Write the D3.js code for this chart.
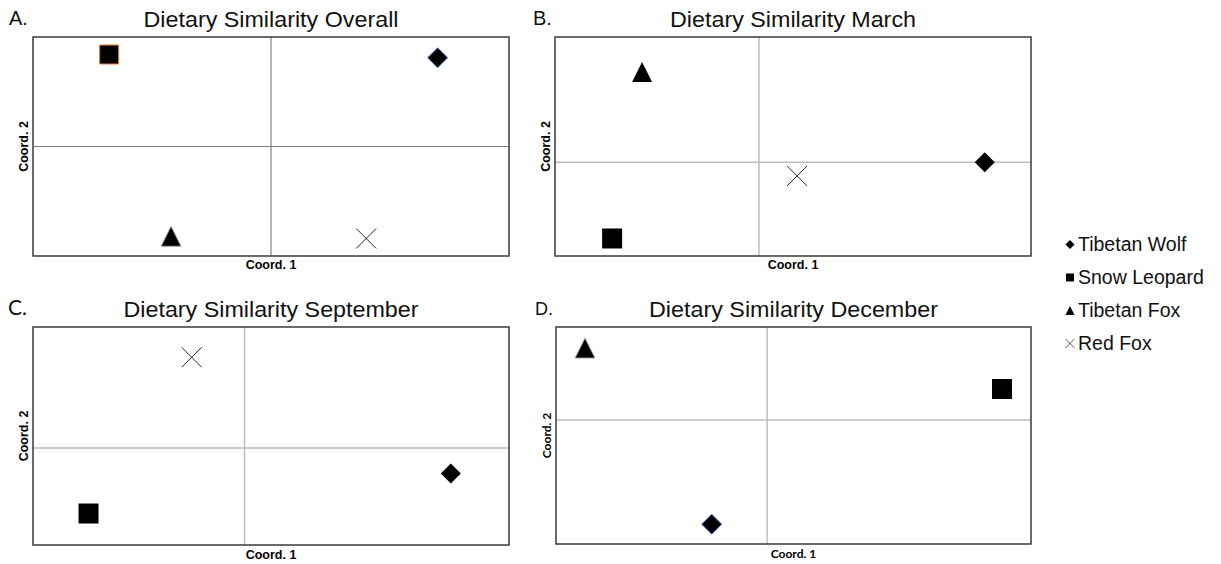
<!DOCTYPE html>
<html>
<head>
<meta charset="utf-8">
<script src="https://cdn.jsdelivr.net/npm/d3@7"></script>
<style>
  body { margin: 0; background: #fff; }
  svg { display: block; }
</style>
</head>
<body>
<svg id="chart"></svg>
<script>
// Species shown in every panel (same order as the coordinate arrays)
const species = ["Tibetan Wolf", "Snow Leopard", "Tibetan Fox", "Red Fox"];

const panelLetters = ["A.", "B.", "C.", "D."];
const panelTitles = [
  "Dietary Similarity Overall",
  "Dietary Similarity March",
  "Dietary Similarity September",
  "Dietary Similarity December",
];

// axis extents of each ordination (crosshair sits at 0)
const xDomains = [[-1, 1], [-0.75, 1], [-0.8, 1], [-0.8, 1]];
const yDomains = [[-1, 1], [-0.75, 1], [-0.8, 1], [-1, 0.75]];

// coordinates, null = species absent in that panel
const overallX = [0.70, -0.68, -0.42, 0.40];
const overallY = [0.81, 0.84, -0.82, -0.84];
const marchX = [0.83, -0.54, -0.43, 0.14];
const marchY = [0.0, -0.61, 0.72, -0.11];
const septemberX = [0.78, -0.59, null, -0.2];
const septemberY = [-0.21, -0.54, null, 0.75];
const decemberX = [-0.21, 0.89, -0.69, null];
const decemberY = [-0.84, 0.25, 0.58, null];

const panelX = [overallX, marchX, septemberX, decemberX];
const panelY = [overallY, marchY, septemberY, decemberY];

const width = 1221;
const height = 564;
const svg = d3.select("#chart").attr("width", width).attr("height", height);

// frames of the four plots
const frames = [
  { x0: 33, x1: 509, y0: 37, y1: 256 },
  { x0: 555, x1: 1031, y0: 37, y1: 256 },
  { x0: 33, x1: 509, y0: 327, y1: 545 },
  { x0: 556, x1: 1031, y0: 327, y1: 544 },
];
const titleWidths = [255, 246, 295, 289];
const letterX = [9, 533, 8, 535];

const arial = "'Liberation Sans', Arial, sans-serif";
const calibriLike = "Lato, 'Open Sans', sans-serif";

// custom symbols: square, diamond, triangle in a square box, and a thin cross
const boxTriangle = {
  draw(ctx, size) {
    const s = Math.sqrt(size) / 2;
    ctx.moveTo(0, -s);
    ctx.lineTo(s, s);
    ctx.lineTo(-s, s);
    ctx.closePath();
  },
};
const boxDiamond = {
  draw(ctx, size) {
    const s = Math.sqrt(size) / 2;
    ctx.moveTo(0, -s);
    ctx.lineTo(s, 0);
    ctx.lineTo(0, s);
    ctx.lineTo(-s, 0);
    ctx.closePath();
  },
};
const boxSquare = {
  draw(ctx, size) {
    const s = Math.sqrt(size) / 2;
    ctx.rect(-s, -s, 2 * s, 2 * s);
  },
};
const boxCross = {
  draw(ctx, size) {
    const s = Math.sqrt(size) / 2;
    ctx.moveTo(-s, -s);
    ctx.lineTo(s, s);
    ctx.moveTo(s, -s);
    ctx.lineTo(-s, s);
  },
};
const symbolTypes = [boxDiamond, boxSquare, boxTriangle, boxCross];

// edge colours that show in some panels (pasted markers)
function markerStroke(panel, i) {
  if (i === 3) return "#222";
  if (panel === 0 && i === 1) return "#e87d35";
  if ((panel === 0 || panel === 3) && i === 0) return "#4a72c4";
  if ((panel === 0 || panel === 3) && i === 2) return "#aaa";
  return "none";
}

frames.forEach((f, p) => {
  const g = svg.append("g");
  const x = d3.scaleLinear().domain(xDomains[p]).range([f.x0, f.x1]);
  const y = d3.scaleLinear().domain(yDomains[p]).range([f.y1, f.y0]);
  const cross = p === 0 ? "#808080" : "#bdbdbd";

  // crosshair at origin
  g.append("line")
    .attr("x1", x(0)).attr("x2", x(0))
    .attr("y1", f.y0).attr("y2", f.y1)
    .attr("stroke", cross).attr("stroke-width", p === 0 ? 1.2 : 1.5);
  g.append("line")
    .attr("x1", f.x0).attr("x2", f.x1)
    .attr("y1", y(0)).attr("y2", y(0))
    .attr("stroke", cross).attr("stroke-width", p === 0 ? 1.2 : 1.5);

  // frame
  g.append("rect")
    .attr("x", f.x0).attr("y", f.y0)
    .attr("width", f.x1 - f.x0).attr("height", f.y1 - f.y0)
    .attr("fill", "none").attr("stroke", "#3a3a3a").attr("stroke-width", 1.5);

  // points
  const pts = species
    .map((s, i) => ({ i, s, vx: panelX[p][i], vy: panelY[p][i] }))
    .filter((d) => d.vx !== null);

  g.selectAll(".pt")
    .data(pts)
    .enter()
    .append("path")
    .attr("class", "pt")
    .attr("transform", (d) => `translate(${x(d.vx)},${y(d.vy)})`)
    .attr("d", (d) => d3.symbol().type(symbolTypes[d.i]).size(d.i === 1 && p === 0 ? 361 : 400)())
    .attr("fill", (d) => (d.i === 3 ? "none" : "#000"))
    .attr("stroke", (d) => markerStroke(p, d.i))
    .attr("stroke-width", 1);

  // titles
  const cx = (f.x0 + f.x1) / 2;
  svg.append("text")
    .attr("x", cx).attr("y", f.y0 - 10)
    .attr("text-anchor", "middle")
    .attr("textLength", titleWidths[p])
    .attr("lengthAdjust", "spacingAndGlyphs")
    .style("font-family", arial).style("font-size", "22px").attr("fill", "#111")
    .text(panelTitles[p]);

  svg.append("text")
    .attr("x", letterX[p])
    .attr("y", f.y0 - 12)
    .style("font-family", p === 2 ? calibriLike : arial)
    .style("font-size", p === 2 ? "21px" : p === 3 ? "18px" : "20px").attr("fill", "#111")
    .text(panelLetters[p]);

  // axis titles
  const labelFont = p === 3 ? calibriLike : arial;
  const labelSize = p === 3 ? "12px" : "12.5px";
  svg.append("text")
    .attr("x", cx).attr("y", f.y1 + (p < 2 ? 13 : 14))
    .attr("text-anchor", "middle")
    .style("font-family", labelFont).style("font-size", labelSize).style("font-weight", "bold")
    .text("Coord. 1");
  svg.append("text")
    .attr("transform", `translate(${f.x0 - 5},${(f.y0 + f.y1) / 2}) rotate(-90)`)
    .attr("text-anchor", "middle")
    .style("font-family", labelFont).style("font-size", labelSize).style("font-weight", "bold")
    .text("Coord. 2");
});

// legend
const legend = svg.append("g").attr("transform", "translate(1070,243.5)");
const item = legend
  .selectAll(".item")
  .data(species)
  .enter()
  .append("g")
  .attr("class", "item")
  .attr("transform", (d, i) => `translate(0,${i * 33})`);

item.append("path")
  .attr("transform", "translate(0,1)")
  .attr("d", (d, i) => d3.symbol().type(symbolTypes[i]).size(i === 1 ? 64 : 81)())
  .attr("fill", (d, i) => (i === 3 ? "none" : "#000"))
  .attr("stroke", (d, i) => (i === 3 ? "#333" : "none"))
  .attr("stroke-width", 0.8);

item.append("text")
  .attr("x", 8)
  .attr("dy", "0.36em")
  .style("font-family", arial)
  .style("font-size", "19.5px")
  .attr("fill", "#111")
  .text((d) => d);
</script>
</body>
</html>
